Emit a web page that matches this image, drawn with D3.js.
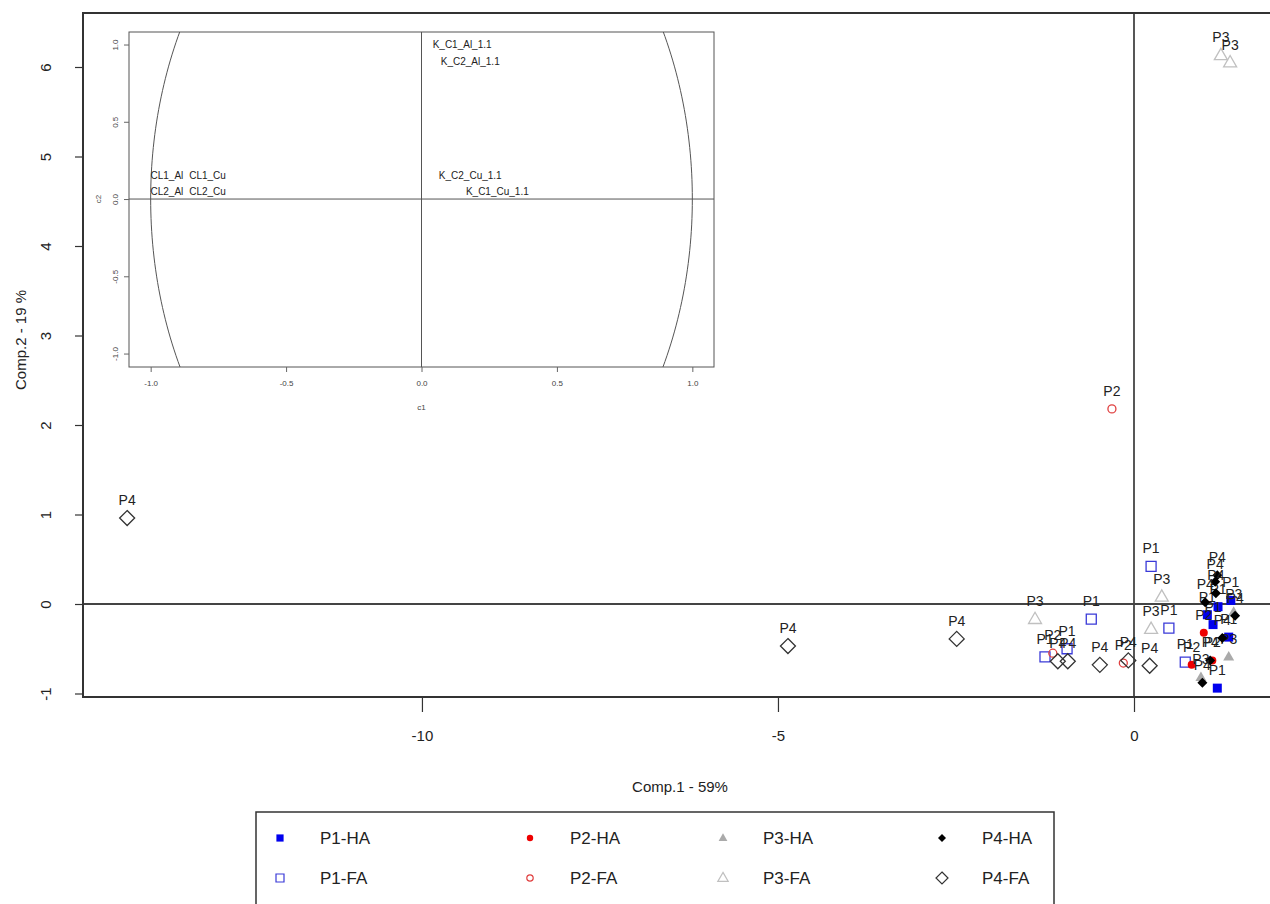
<!DOCTYPE html>
<html><head><meta charset="utf-8">
<script src="https://cdn.jsdelivr.net/npm/d3@7"></script>
<style>body{margin:0;background:#fff}svg{display:block;font-family:"Liberation Sans",Arial,sans-serif}</style>
</head><body>
<svg id="c" width="1270" height="904"></svg>
<script>
// ---- data ----
const xTicks = [-10, -5, 0];
const yTicks = [-1, 0, 1, 2, 3, 4, 5, 6];
const xTitle = "Comp.1 - 59%";
const yTitle = "Comp.2 - 19 %";

const p1HA = [[1.18,-0.03],[1.03,-0.12],[1.11,-0.23],[1.36,0.04],[1.33,-0.37],[1.17,-0.94]];
const p1FA = [[0.24,0.42],[-0.60,-0.17],[0.49,-0.27],[-1.25,-0.59],[-0.94,-0.50],[0.72,-0.65]];
const p2HA = [[0.98,-0.32],[0.81,-0.68],[1.10,-0.63]];
const p2FA = [[-0.31,2.18],[-1.14,-0.55],[-0.15,-0.66]];
const p3HA = [[1.33,-0.59],[0.94,-0.82],[1.40,-0.09]];
const p3FA = [[1.22,6.13],[1.35,6.05],[-1.39,-0.17],[0.24,-0.28],[0.39,0.08]];
const p4HA = [[1.14,0.25],[1.17,0.32],[1.15,0.12],[1.00,0.02],[1.42,-0.13],[1.24,-0.38],[1.07,-0.63],[0.96,-0.88]];
const p4FA = [[-14.14,0.96],[-4.86,-0.47],[-2.49,-0.39],[-0.48,-0.68],[0.22,-0.69],[-1.07,-0.64],[-0.93,-0.64],[-0.08,-0.63]];

const seriesNames = ["P1-FA","P2-FA","P3-FA","P4-FA","P1-HA","P2-HA","P3-HA","P4-HA"];
const seriesData = [p1FA, p2FA, p3FA, p4FA, p1HA, p2HA, p3HA, p4HA];
const legendOrder = ["P1-HA","P2-HA","P3-HA","P4-HA","P1-FA","P2-FA","P3-FA","P4-FA"];

// inset (correlation circle)
const insetTicks = [-1, -0.5, 0, 0.5, 1];
const insetNames = ["K_C1_Al_1.1","K_C2_Al_1.1","K_C2_Cu_1.1","K_C1_Cu_1.1","CL1_Al","CL1_Cu","CL2_Al","CL2_Cu"];
const insetC1 = [0.15, 0.18, 0.18, 0.28, -0.94, -0.79, -0.94, -0.79];
const insetC2 = [1.00, 0.89, 0.15, 0.05, 0.15, 0.15, 0.05, 0.05];

// ---- styles ----
const style = {
  "P1-HA": {shape:"square", size:9, fill:"#0000ee", stroke:"none"},
  "P1-FA": {shape:"square", size:10, fill:"none", stroke:"#3a3ad8"},
  "P2-HA": {shape:"circle", size:8, fill:"#ee0000", stroke:"none"},
  "P2-FA": {shape:"circle", size:8, fill:"none", stroke:"#e04040"},
  "P3-HA": {shape:"triangle", size:11, fill:"#aaaaaa", stroke:"none"},
  "P3-FA": {shape:"triangle", size:13, fill:"none", stroke:"#c0c0c0"},
  "P4-HA": {shape:"diamond", size:10, fill:"#000", stroke:"none"},
  "P4-FA": {shape:"diamond", size:15, fill:"none", stroke:"#333"}
};
function symPath(shape, s) {
  const h = s / 2;
  if (shape === "square") return `M${-h},${-h}H${h}V${h}H${-h}Z`;
  if (shape === "diamond") return `M0,${-h}L${h},0L0,${h}L${-h},0Z`;
  if (shape === "triangle") { const t = s * 0.866; return `M0,${-t*0.62}L${h},${t*0.38}L${-h},${t*0.38}Z`; }
  return d3.arc()({innerRadius:0, outerRadius:h, startAngle:0, endAngle:2*Math.PI});
}
const hyphen = f => d => f(d).replace("\u2212", "-");

const svg = d3.select("#c");
svg.append("rect").attr("width",1270).attr("height",904).attr("fill","#fff");

// ---- main scales ----
const L = 83, T = 13, B = 697, R = 1290;
const x = d3.scaleLinear().domain([-14.76, 0]).range([L, 1134]);
const y = d3.scaleLinear().domain([0, 6]).range([604, 67]);

// axes
const xAxis = svg.append("g").attr("transform",`translate(0,${B})`)
  .call(d3.axisBottom(x).tickValues(xTicks).tickSize(15).tickPadding(18).tickFormat(hyphen(d3.format("d"))));
xAxis.select(".domain").remove();
xAxis.selectAll("line").attr("stroke","#333").attr("stroke-width",1.2);
xAxis.selectAll("text").attr("font-size",15).attr("fill","#222");

const yAxis = svg.append("g").attr("transform",`translate(${L},0)`)
  .call(d3.axisLeft(y).tickValues(yTicks).tickSize(8).tickPadding(0).tickFormat(hyphen(d3.format("d"))));
yAxis.select(".domain").remove();
yAxis.selectAll("line").attr("stroke","#333").attr("stroke-width",1.2);
yAxis.selectAll("text").attr("font-size",15).attr("fill","#222")
  .attr("text-anchor","middle").attr("x",0).attr("dy",null)
  .attr("transform","translate(-38,0) rotate(-90)").attr("dominant-baseline","central");

svg.append("text").attr("x",680).attr("y",792).attr("text-anchor","middle")
  .attr("font-size",15).attr("fill","#222").text(xTitle);
svg.append("text").attr("transform","translate(20,340) rotate(-90)").attr("text-anchor","middle")
  .attr("dominant-baseline","central").attr("font-size",15).attr("fill","#222").text(yTitle);

// zero lines
svg.append("line").attr("x1",L).attr("x2",R).attr("y1",y(0)).attr("y2",y(0)).attr("stroke","#444").attr("stroke-width",1.8);
svg.append("line").attr("x1",x(0)).attr("x2",x(0)).attr("y1",T).attr("y2",B).attr("stroke","#444").attr("stroke-width",1.8);
// frame
svg.append("rect").attr("x",L).attr("y",T).attr("width",R-L).attr("height",B-T)
  .attr("fill","none").attr("stroke","#333").attr("stroke-width",2);

// ---- inset ----
const iL = 129, iR = 714, iT = 32, iB = 367;
const ix = d3.scaleLinear().domain([-1.08, 1.08]).range([iL, iR]);
const iy = d3.scaleLinear().domain([-1.087, 1.081]).range([iB, iT]);
const ins = svg.append("g");
ins.append("rect").attr("x",iL).attr("y",iT).attr("width",iR-iL).attr("height",iB-iT).attr("fill","#fff");
ins.append("clipPath").attr("id","iclip").append("rect").attr("x",iL).attr("y",iT).attr("width",iR-iL).attr("height",iB-iT);
const ellipseRy = 2.4; // vertical stretch of the unit circle as it appears
const angles = d3.range(0, 361, 1).map(a => a * Math.PI / 180);
ins.append("path").attr("clip-path","url(#iclip)")
  .attr("d", d3.line().x(a => ix(Math.cos(a))).y(a => iy(ellipseRy * Math.sin(a)))(angles))
  .attr("fill","none").attr("stroke","#555").attr("stroke-width",1);
ins.append("line").attr("x1",ix(0)).attr("x2",ix(0)).attr("y1",iT).attr("y2",iB).attr("stroke","#555");
ins.append("line").attr("x1",iL).attr("x2",iR).attr("y1",iy(0)).attr("y2",iy(0)).attr("stroke","#555");
ins.append("rect").attr("x",iL).attr("y",iT).attr("width",iR-iL).attr("height",iB-iT)
  .attr("fill","none").attr("stroke","#555").attr("stroke-width",1);
const ixa = ins.append("g").attr("transform",`translate(0,${iB})`)
  .call(d3.axisBottom(ix).tickValues(insetTicks).tickSize(5).tickPadding(8).tickFormat(hyphen(d3.format(".1f"))));
ixa.select(".domain").remove();
ixa.selectAll("line").attr("stroke","#666");
ixa.selectAll("text").attr("font-size",8).attr("fill","#444");
const iya = ins.append("g").attr("transform",`translate(${iL},0)`)
  .call(d3.axisLeft(iy).tickValues(insetTicks).tickSize(5).tickPadding(0).tickFormat(hyphen(d3.format(".1f"))));
iya.select(".domain").remove();
iya.selectAll("line").attr("stroke","#666");
iya.selectAll("text").attr("font-size",8).attr("fill","#444").attr("x",0).attr("dy",null)
  .attr("text-anchor","middle").attr("dominant-baseline","central")
  .attr("transform","translate(-14,0) rotate(-90)");
ins.append("text").attr("x",ix(0)).attr("y",410).attr("text-anchor","middle").attr("font-size",8).attr("fill","#444").text("c1");
ins.append("text").attr("transform",`translate(98,${iy(0)}) rotate(-90)`).attr("text-anchor","middle")
  .attr("dominant-baseline","central").attr("font-size",8).attr("fill","#444").text("c2");
ins.selectAll("text.lab").data(insetNames).join("text").attr("class","lab")
  .attr("x",(d,i)=>ix(insetC1[i])).attr("y",(d,i)=>iy(insetC2[i]))
  .attr("text-anchor","middle").attr("dominant-baseline","central")
  .attr("font-size",10).attr("fill","#222").text(d=>d);

// ---- points ----
const pts = svg.append("g");
seriesNames.forEach((name, si) => {
  const st = style[name];
  const g = pts.append("g");
  g.selectAll("path").data(seriesData[si]).join("path")
    .attr("transform", d => `translate(${x(d[0])},${y(d[1])})`)
    .attr("d", symPath(st.shape, st.size))
    .attr("fill", st.fill).attr("stroke", st.stroke).attr("stroke-width", 1.3);
  g.selectAll("text").data(seriesData[si]).join("text")
    .attr("x", d => x(d[0])).attr("y", d => y(d[1]) - 13)
    .attr("text-anchor","middle").attr("font-size",14).attr("fill","#222")
    .text(name.split("-")[0]);
});

// ---- legend ----
const leg = svg.append("g");
leg.append("rect").attr("x",256).attr("y",812).attr("width",798).attr("height",110)
  .attr("fill","#fff").attr("stroke","#333").attr("stroke-width",1.5);
const legCols = [280, 530, 723, 942];
const legRows = [838, 878];
legendOrder.forEach((name, i) => {
  const cx = legCols[i % 4], cy = legRows[Math.floor(i / 4)];
  const st = style[name];
  leg.append("path").attr("transform",`translate(${cx},${cy})`)
    .attr("d", symPath(st.shape, st.size * 0.8))
    .attr("fill", st.fill).attr("stroke", st.stroke).attr("stroke-width",1.2);
  leg.append("text").attr("x", cx + 40).attr("y", cy).attr("dominant-baseline","central")
    .attr("font-size",17).attr("fill","#222").text(name);
});
</script>
</body></html>
